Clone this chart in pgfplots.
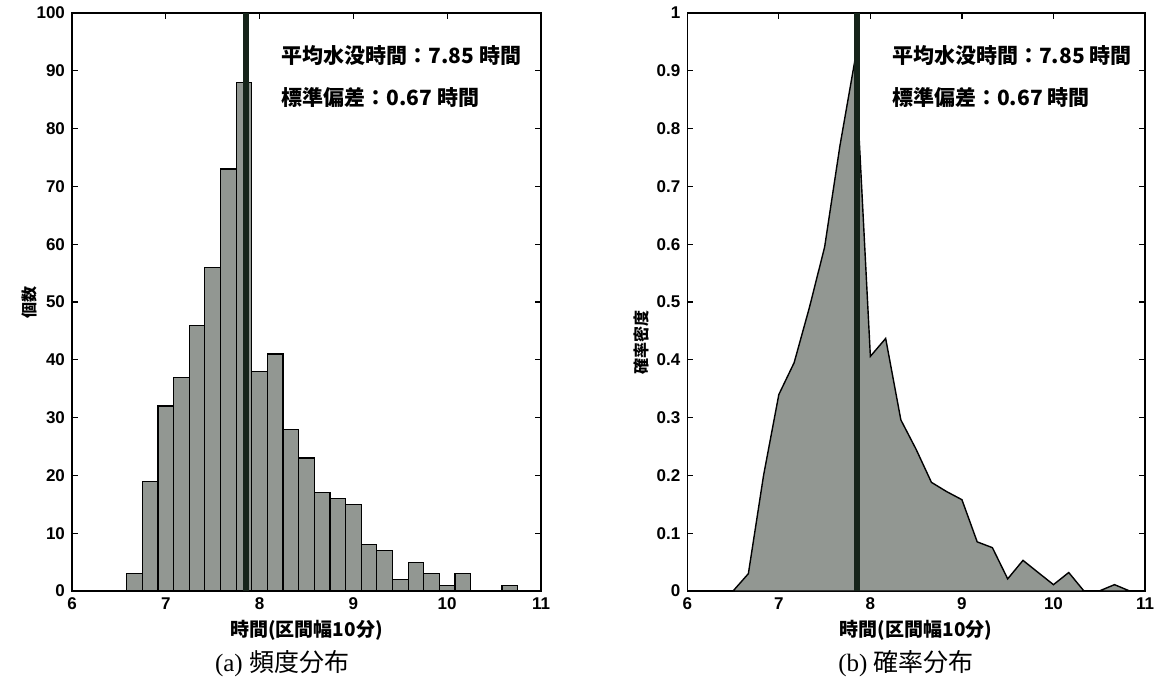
\documentclass[border=0pt]{standalone}
\usepackage{fontspec}
\setmainfont{Liberation Sans}
\newfontfamily\jp{Noto Sans CJK JP}
\newfontfamily\serif{Liberation Serif}
\usepackage{pgfplots}
\pgfplotsset{compat=1.18}
\definecolor{barfill}{RGB}{146,151,146}
\definecolor{meanline}{RGB}{22,36,26}
\pgfplotsset{
  mystyle/.style={
    scale only axis,
    anchor=south west,
    height=289pt,
    xmin=6, xmax=11,
    xtick={6,7,8,9,10,11},
    tick align=inside,
    major tick length=3pt,
    axis line style={line width=0.8pt},
    every tick/.style={black, line width=0.6pt},
    /pgf/number format/assume math mode=true,
    tick label style={font=\fontsize{8.5}{10}\selectfont\bfseries},
    xlabel={\jp\bfseries 時間(区間幅10分)},
    xlabel style={font=\fontsize{9.5}{11}\selectfont, yshift=2pt},
    ylabel style={font=\fontsize{8}{10}\selectfont},
    clip=true,
  }
}
\begin{document}
\begin{tikzpicture}
\path[use as bounding box] (0,0) rectangle (583.5pt,341pt);
% (a)
\begin{axis}[mystyle,
  at={(36pt,45.5pt)}, width=234.5pt,
  ymin=0, ymax=100, ytick={0,10,...,100},
  ylabel={\jp\bfseries 個数},
  ylabel style={yshift=-7pt},
]
\addplot[ybar interval, fill=barfill, draw=black, line width=0.6pt] coordinates {
(6.5833,3) (6.75,19) (6.9167,32) (7.0833,37) (7.25,46) (7.4167,56)
(7.5833,73) (7.75,88) (7.9167,38) (8.0833,41) (8.25,28) (8.4167,23)
(8.5833,17) (8.75,16) (8.9167,15) (9.0833,8) (9.25,7) (9.4167,2)
(9.5833,5) (9.75,3) (9.9167,1) (10.0833,3) (10.25,0) (10.4167,0)
(10.5833,1) (10.75,1)
};
\addplot[meanline, line width=3pt] coordinates {(7.85,0) (7.85,100)};
\node[anchor=west, font=\jp\bfseries\fontsize{10.5}{12}\selectfont] at (axis cs:8.16,92.7) {平均水没時間：7.85 時間};
\node[anchor=west, font=\jp\bfseries\fontsize{10.5}{12}\selectfont] at (axis cs:8.16,85.4) {標準偏差：0.67 時間};
\end{axis}
% (b)
\begin{axis}[mystyle,
  at={(343.65pt,45.5pt)}, width=228.85pt,
  ymin=0, ymax=1, ytick={0,0.1,...,1.0},
  yticklabel style={/pgf/number format/fixed, /pgf/number format/precision=1},
  ylabel={\jp\bfseries 確率密度},
  ylabel style={at={(ticklabel cs:0.43)}, yshift=-3pt},
]
\addplot[fill=barfill, draw=black, line width=0.7pt] coordinates {
(6.5,0) (6.667,0.03) (6.833,0.2) (7.0,0.34) (7.167,0.395) (7.333,0.49)
(7.5,0.595) (7.667,0.77) (7.833,0.92) (8.0,0.406) (8.167,0.437) (8.333,0.296)
(8.5,0.245) (8.667,0.188) (8.833,0.172) (9.0,0.158) (9.167,0.085) (9.333,0.075)
(9.5,0.021) (9.667,0.053) (9.833,0.032) (10.0,0.011) (10.167,0.032) (10.333,0)
(10.5,0) (10.667,0.011) (10.833,0)
} \closedcycle;
\addplot[meanline, line width=3pt] coordinates {(7.85,0) (7.85,1)};
\node[anchor=west, font=\jp\bfseries\fontsize{10.5}{12}\selectfont] at (axis cs:8.16,0.927) {平均水没時間：7.85 時間};
\node[anchor=west, font=\jp\bfseries\fontsize{10.5}{12}\selectfont] at (axis cs:8.16,0.854) {標準偏差：0.67 時間};
\end{axis}
\node[font=\fontsize{12.5}{14}\selectfont] at (141pt,9pt) {\serif (a)\ \jp 頻度分布};
\node[font=\fontsize{12.5}{14}\selectfont] at (453pt,9pt) {\serif (b)\ \jp 確率分布};
\end{tikzpicture}
\end{document}
